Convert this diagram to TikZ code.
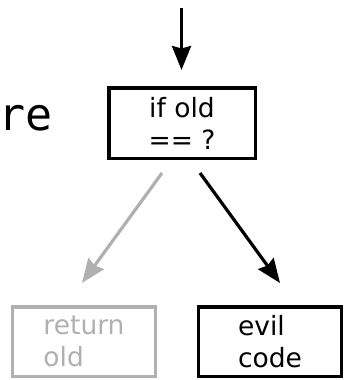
\documentclass[tikz,border=0pt]{standalone}
\usepackage{fontspec}
\setmainfont{DejaVu Sans}
\newfontfamily\codefont{DejaVu Sans Mono}
\usetikzlibrary{arrows.meta}
\definecolor{faded}{RGB}{176,176,176}
\tikzset{
  box/.style={draw, line width=3.5pt, minimum width=143pt, minimum height=69.5pt,
    inner sep=0pt, font=\fontsize{26.5}{32}\selectfont},
  flow/.style={line width=3.2pt, -{Stealth[length=24pt,width=19pt,inset=2.5pt]}},
}
\begin{document}
\begin{tikzpicture}[x=1pt,y=-1pt]
  \useasboundingbox (0,0) rectangle (344,380);
  % partial code word on the left
  \node[anchor=base west, inner sep=0pt, font=\codefont\fontsize{45}{45}\selectfont] (word) at (-2,130) {re};
  % decision box
  \node[box, align=center, minimum width=146.5pt, minimum height=70.5pt] (test) at (182,123) {if old\\== ?};
  % outcomes
  \node[box, align=left, draw=faded, text=faded] (ret) at (84,341.5) {return\\old};
  \node[box, align=left] (evil) at (270,341.5) {evil\\code};
  % connector ends
  \coordinate (in) at (181.5,8);
  \coordinate (gs) at (162,173);
  \coordinate (ge) at (82,283);
  \coordinate (bs) at (200,173);
  \coordinate (be) at (280,283);
  \draw[flow] (in) -- (in |- test.north) [shorten >=16pt];
  \draw[flow, draw=faded, fill=faded] (gs) -- (ge);
  \draw[flow] (bs) -- (be);
\end{tikzpicture}
\end{document}
